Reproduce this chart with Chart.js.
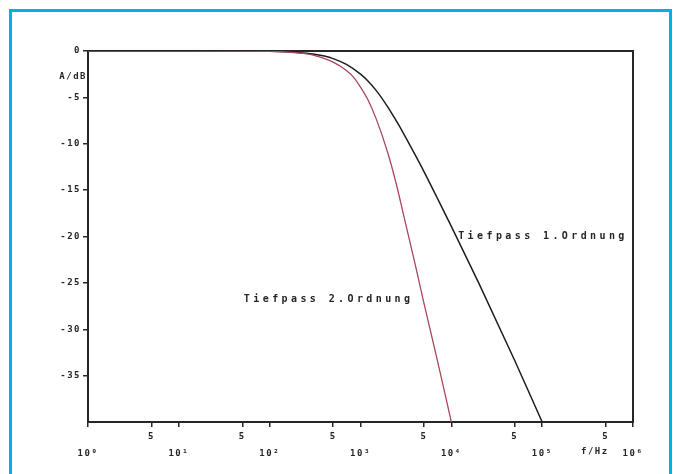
<!DOCTYPE html>
<html>
<head>
<meta charset="utf-8">
<script src="https://cdn.jsdelivr.net/npm/chart.js@4.4.1/dist/chart.umd.min.js"></script>
<style>
  body { margin: 0; background: #fff; }
  #frame { position: absolute; left: 9px; top: 9px; width: 657px; height: 480px; border: 3px solid #00aeef; border-bottom: none; }
  #wrap { position: absolute; left: 0; top: 0; width: 678px; height: 474px; }
</style>
</head>
<body>
<div id="frame"></div>
<div id="wrap"><canvas id="chart" width="678" height="474"></canvas></div>
<script>
// Frequenzgang (f in Hz, A in dB)
const freq1 = [1, 10, 100, 150, 200, 300, 400, 500, 700, 1000, 1200, 1500, 2000, 2500, 3000, 4000, 5000, 7000, 10000, 20000, 50000, 100000];
const tp1 = [0, 0, -0.04, -0.08, -0.15, -0.32, -0.55, -0.82, -1.45, -2.5, -3.2, -4.3, -6.05, -7.6, -8.95, -11.2, -13.0, -15.85, -18.9, -25.0, -33.4, -40];
const freq2 = [1, 10, 100, 200, 300, 500, 700, 850, 1000, 1200, 1500, 2000, 2500, 3000, 4000, 5000, 7000, 10000];
const tp2 = [0, 0, -0.04, -0.2, -0.45, -1.2, -2.1, -2.9, -3.9, -5.2, -7.4, -11.0, -14.5, -17.8, -23.0, -27.2, -33.3, -40];

const yTicks = [0, -5, -10, -15, -20, -25, -30, -35];
const xTicks = [1, 5, 10, 50, 100, 500, 1000, 5000, 10000, 50000, 100000, 500000, 1000000];
const decadeLabels = ['10⁰', '10¹', '10²', '10³', '10⁴', '10⁵', '10⁶'];
const curveLabels = ['Tiefpass 1.Ordnung', 'Tiefpass 2.Ordnung'];
const xTitle = 'f/Hz';
const yTitle = 'A/dB';

const ink = '#262626';
const tickFont = { family: '"DejaVu Sans Mono", monospace', size: 9, weight: 'bold' };

const toPoints = (xs, ys) => xs.map((f, i) => ({ x: f, y: ys[i] }));

// Beschriftungen im Diagramm
const textPlugin = {
  id: 'texte',
  beforeDraw(chart) {
    chart.ctx.letterSpacing = '1.5px';
  },
  afterDatasetsDraw(chart) {
    const { ctx, scales: { x, y }, chartArea } = chart;
    ctx.save();
    ctx.fillStyle = ink;
    ctx.font = 'bold 10px "DejaVu Sans Mono", monospace';
    ctx.letterSpacing = '3.4px';
    ctx.textAlign = 'left';
    ctx.textBaseline = 'middle';
    ctx.fillText(curveLabels[0], x.getPixelForValue(11900), y.getPixelForValue(-20));
    ctx.fillText(curveLabels[1], x.getPixelForValue(52), y.getPixelForValue(-26.8));

    ctx.font = 'bold 9px "DejaVu Sans Mono", monospace';
    ctx.letterSpacing = '1.5px';
    ctx.textAlign = 'right';
    ctx.fillText(yTitle, chartArea.left - 1, y.getPixelForValue(-2.8));
    ctx.textAlign = 'center';
    ctx.fillText(xTitle, x.getPixelForValue(380000), chartArea.bottom + 30);
    ctx.restore();
  }
};

new Chart(document.getElementById('chart'), {
  type: 'scatter',
  data: {
    datasets: [
      {
        label: curveLabels[1],
        data: toPoints(freq2, tp2),
        showLine: true,
        borderColor: '#a8485a',
        borderWidth: 1.3,
        pointRadius: 0,
        cubicInterpolationMode: 'monotone'
      },
      {
        label: curveLabels[0],
        data: toPoints(freq1, tp1),
        showLine: true,
        borderColor: '#1e1e1e',
        borderWidth: 1.5,
        pointRadius: 0,
        cubicInterpolationMode: 'monotone'
      }
    ]
  },
  options: {
    responsive: false,
    animation: false,
    layout: { padding: { left: 0, right: 45, top: 51, bottom: 0 } },
    plugins: { legend: { display: false }, tooltip: { enabled: false } },
    scales: {
      x: {
        type: 'logarithmic',
        position: 'bottom',
        min: 1,
        max: 1000000,
        afterBuildTicks: (s) => { s.ticks = xTicks.map(v => ({ value: v })); },
        afterFit: (s) => { s.height = 52; },
        grid: { drawOnChartArea: false, drawTicks: true, tickLength: 5, color: ink, lineWidth: 1.5 },
        border: { display: true, color: ink, width: 2 },
        ticks: {
          autoSkip: false,
          maxRotation: 0,
          padding: 1,
          color: ink,
          font: { ...tickFont, lineHeight: 1.9 },
          callback: (v) => {
            const e = Math.log10(v);
            if (Math.abs(e - Math.round(e)) < 1e-6) return ['', decadeLabels[Math.round(e)]];
            return ['5', ''];
          }
        }
      },
      xTop: {
        type: 'linear',
        position: 'top',
        min: 0,
        max: 1,
        afterFit: (s) => { s.height = 0; },
        grid: { drawOnChartArea: false, drawTicks: false },
        border: { display: true, color: ink, width: 2 },
        ticks: { display: false }
      },
      y: {
        type: 'linear',
        position: 'left',
        min: -40,
        max: 0,
        afterBuildTicks: (s) => { s.ticks = yTicks.map(v => ({ value: v })); },
        afterFit: (s) => { s.width = 88; },
        grid: { drawOnChartArea: false, drawTicks: true, tickLength: 5, color: ink, lineWidth: 1.5 },
        border: { display: true, color: ink, width: 2 },
        ticks: { padding: 2, color: ink, font: tickFont }
      },
      yRight: {
        type: 'linear',
        position: 'right',
        min: 0,
        max: 1,
        afterFit: (s) => { s.width = 0; },
        grid: { drawOnChartArea: false, drawTicks: false },
        border: { display: true, color: ink, width: 2 },
        ticks: { display: false }
      }
    }
  },
  plugins: [textPlugin]
});
</script>
</body>
</html>
